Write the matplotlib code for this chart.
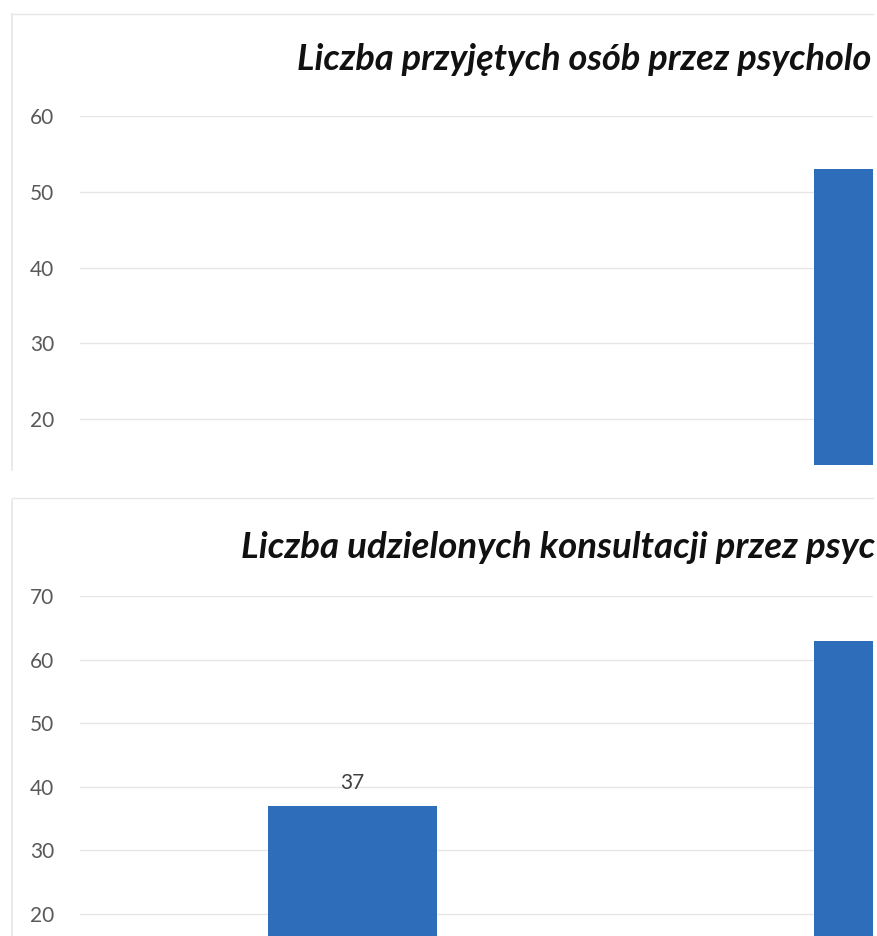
import numpy as np
import matplotlib
matplotlib.use("Agg")
import matplotlib.pyplot as plt
from matplotlib.lines import Line2D

plt.rcParams['font.family'] = ['Lato', 'DejaVu Sans']

positions = [0, 1]
# titles as far as the scan shows them (the rest is cut off at the right edge)
top_title = "Liczba przyjętych osób przez psycholo"
top_values = [np.nan, 53]
bottom_title = "Liczba udzielonych konsultacji przez psyc"
bottom_values = [37, 63]
top_ticks = [20, 30, 40, 50, 60]
bottom_ticks = [20, 30, 40, 50, 60, 70]

bar_color = '#2e6db9'
grid_color = '#e6e6e6'
text_color = '#595959'

fig = plt.figure(figsize=(8.78, 9.36), dpi=100)
W, H = 878, 936


def make_panel(rect, values, ticks, ylim, title, title_xy, title_size):
    ax = fig.add_axes(rect)
    bars = ax.bar(positions, values, width=0.31, color=bar_color, zorder=2)
    labels = ["" if np.isnan(v) else f"{v:g}" for v in values]
    ax.bar_label(bars, labels=labels, padding=9, fontsize=15, color='#404040')
    ax.set_xlim(-0.5, 0.953)
    ax.set_ylim(*ylim)
    ax.set_yticks(ticks)
    ax.set_xticks([])
    ax.tick_params(axis='y', length=0, pad=18, labelsize=15, labelcolor=text_color)
    ax.grid(axis='y', color=grid_color, linewidth=1, zorder=0)
    for s in ax.spines.values():
        s.set_visible(False)
    fig.text(title_xy[0] / W, 1 - title_xy[1] / H, title, fontsize=title_size,
             fontweight='bold', fontstyle='italic', color='#111111',
             ha='left', va='center')
    return ax


# top chart: 60 at y=116px, bottom of crop at y=465px
make_panel([79.5 / W, 1 - 465 / H, 793.5 / W, 349 / H], top_values, top_ticks,
           (13.93, 60), top_title, (297, 60), 26)
# bottom chart: 70 at y=596px, runs to the bottom edge
make_panel([79.5 / W, 0, 793.5 / W, 340 / H], bottom_values, bottom_ticks,
           (16.54, 70), bottom_title, (241, 548), 26.4)

# faint frame of the scanned charts
frame = '#e6e6e6'
fig.add_artist(Line2D([12 / W, 12 / W], [1 - 470 / H, 1 - 14 / H], color=frame, lw=1.2))
fig.add_artist(Line2D([12 / W, 873 / W], [1 - 14 / H, 1 - 14 / H], color=frame, lw=1))
fig.add_artist(Line2D([12 / W, 12 / W], [0, 1 - 500 / H], color=frame, lw=1.2))
fig.add_artist(Line2D([12 / W, 873 / W], [1 - 498 / H, 1 - 498 / H], color=frame, lw=1))

fig.savefig("out.png", dpi=100)
